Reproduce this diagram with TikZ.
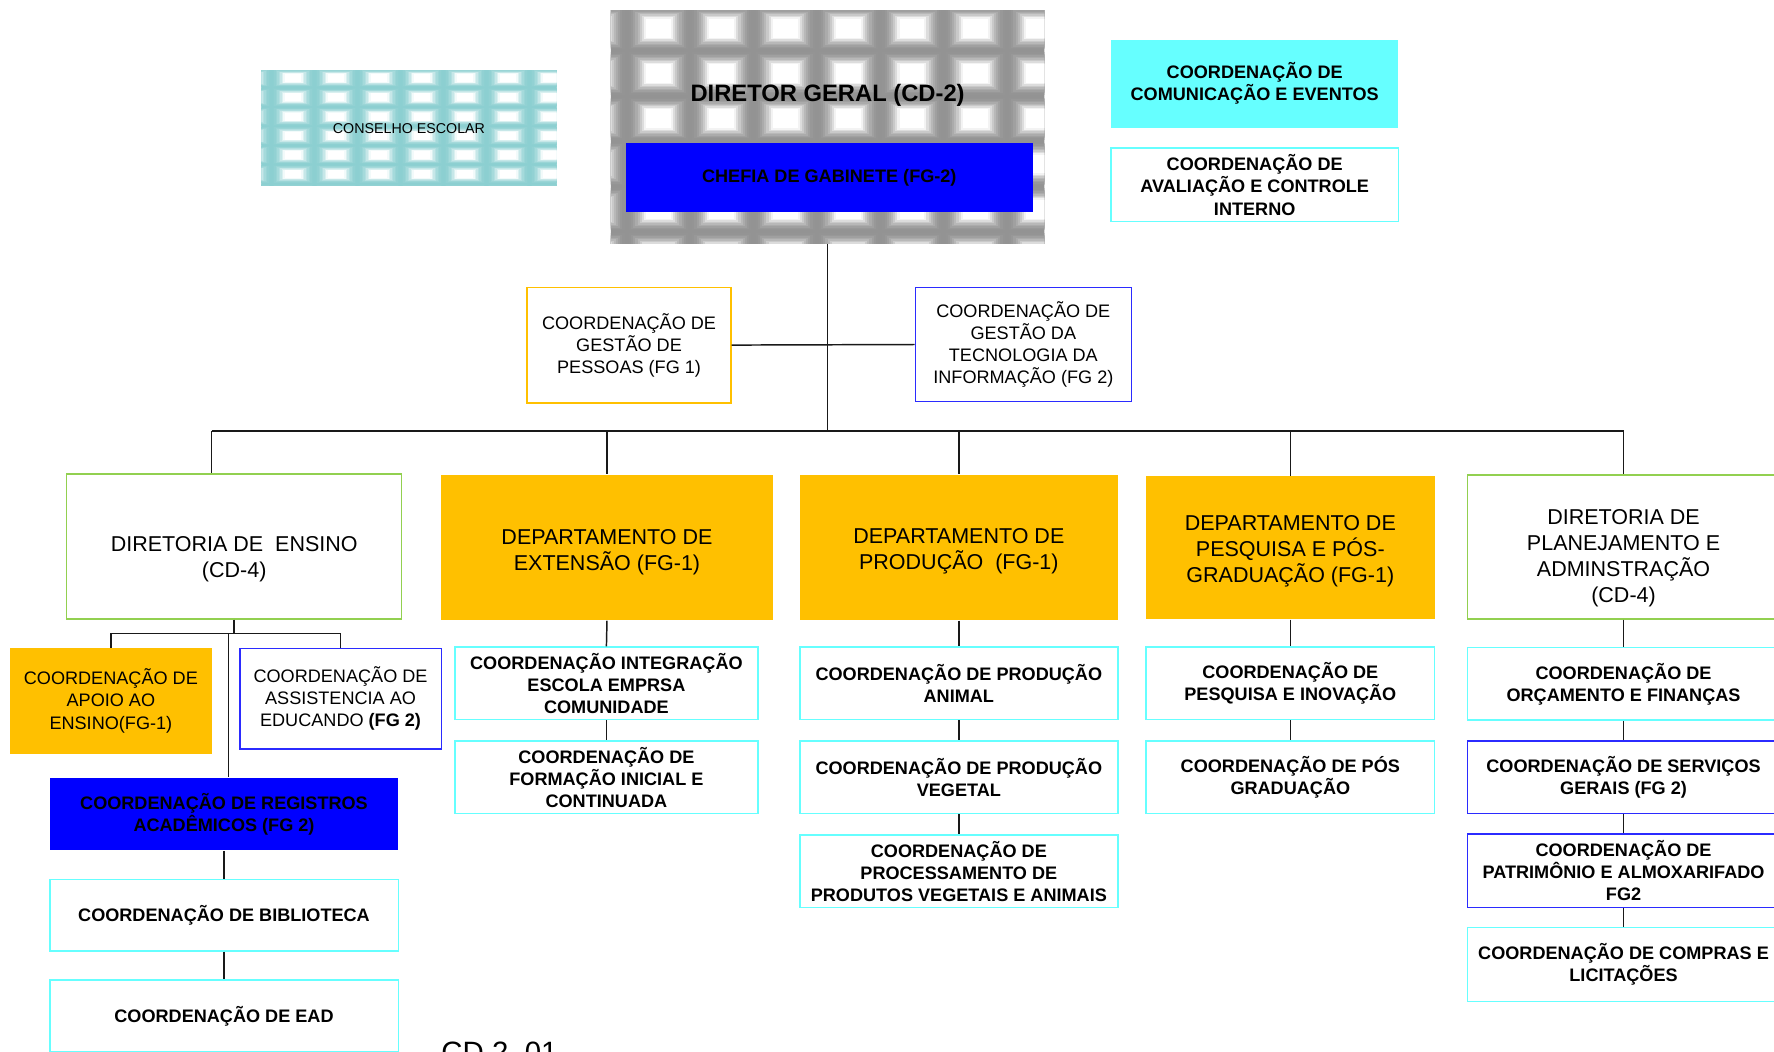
\documentclass[tikz,border=0pt]{standalone}
\usepackage{fontspec}
\setmainfont{Liberation Sans}
\definecolor{gold}{HTML}{FFC000}
\definecolor{grn}{HTML}{92D050}
\definecolor{cy}{HTML}{66FFFF}
\definecolor{bl}{HTML}{0000FF}
\definecolor{blb}{HTML}{2B2BFF}
\definecolor{tilegray}{HTML}{939393}
\definecolor{tileteal}{HTML}{8CCFD1}
\tikzset{
 box/.style={rectangle, inner sep=0pt, align=center, line width=1.3pt},
 sz/.style 2 args={minimum width=#1pt, minimum height=#2pt},
 small/.style={font=\fontsize{16}{19.5}\selectfont},
 smallbf/.style={font=\bfseries\fontsize{16}{19.5}\selectfont},
 dept/.style={font=\fontsize{19}{23}\selectfont, align=center, inner sep=0pt},
 cybox/.style={box, draw=cy, fill=white, smallbf},
 blbox/.style={box, draw=blb, fill=white},
 goldbox/.style={box, fill=gold},
 grnbox/.style={box, draw=grn, fill=white},
 link/.style={line width=1.3pt, draw=black!90},
}
\begin{document}
\begin{tikzpicture}[x=1pt,y=-1pt]
\useasboundingbox (0,0) rectangle (1568,929);
\clip (0,0) rectangle (1568,929);
\fill[white] (0,0) rectangle (1568,929);

% ---- gray tiled background of DIRETOR GERAL
\begin{scope}
 \clip (540,9) rectangle (923,215);
 \fill[tilegray] (540,9) rectangle (923,215);
 \foreach \cx in {526,582,...,918}{
  \foreach \cy in {-15,25,...,225}{
   \foreach \i [evaluate=\i as \pct using {int(min(100,\i*\i*1.4))}] in {0,...,9}{
    \fill[white!\pct!tilegray] (\cx-28+\i*1.9,\cy-20+\i*1.3) rectangle (\cx+28-\i*1.9,\cy+20-\i*1.3);
   }
  }
 }
\end{scope}
% ---- teal tiled background of CONSELHO ESCOLAR
\begin{scope}
 \clip (231,62) rectangle (492,164);
 \fill[tileteal] (231,62) rectangle (492,164);
 \foreach \cx in {221,259,...,525}{
  \foreach \cy in {52,69,...,171}{
   \foreach \i [evaluate=\i as \pct using {int(min(100,\i*\i*1.4))}] in {0,...,9}{
    \fill[white!\pct!tileteal] (\cx-19+\i*1.3,\cy-8.5+\i*0.55) rectangle (\cx+19-\i*1.3,\cy+8.5-\i*0.55);
   }
  }
 }
\end{scope}

% ---- top
\node[box, sz={383}{206}] (dg) at (731.5,112) {};
\node[font=\bfseries\fontsize{21}{24}\selectfont] (dgtxt) at (731.5,84) {DIRETOR GERAL (CD-2)};
\node[box, fill=bl, sz={360}{61}, smallbf] (chefia) at (733,157) {CHEFIA DE GABINETE (FG-2)};
\node[box, sz={261}{102}, font=\fontsize{12.6}{15}\selectfont] (cons) at (361.5,114) {CONSELHO ESCOLAR};
\node[box, fill=cy, sz={254}{78}, smallbf] (com) at (1109,74) {COORDENAÇÃO DE\\COMUNICAÇÃO E EVENTOS};
\node[cybox, sz={254}{65}] (aval) at (1109,163.5) {COORDENAÇÃO DE\\AVALIAÇÃO E CONTROLE\\INTERNO};

\node[box, draw=gold, fill=white, sz={180}{102}, small] (gp) at (556,305) {COORDENAÇÃO DE\\GESTÃO DE\\PESSOAS (FG 1)};
\node[blbox, sz={191}{101}, small] (ti) at (904.5,304.5) {COORDENAÇÃO DE\\GESTÃO DA\\TECNOLOGIA DA\\INFORMAÇÃO (FG 2)};

% ---- second level
\node[grnbox, sz={296}{128}] (dirEns) at (207,483) {};
\node[dept] (dirEnsT) at (207,494) {DIRETORIA DE\ \ ENSINO\\(CD-4)};
\node[goldbox, sz={293}{128}] (ext) at (536.5,484) {};
\node[dept] (extT) at (536.5,488) {DEPARTAMENTO DE\\EXTENSÃO (FG-1)};
\node[goldbox, sz={281}{128}] (prod) at (847.5,484) {};
\node[dept] (prodT) at (847.5,487.5) {DEPARTAMENTO DE\\PRODUÇÃO\ \ (FG-1)};
\node[goldbox, sz={255}{126}] (pesq) at (1140.5,484) {};
\node[dept] (pesqT) at (1140.5,487.5) {DEPARTAMENTO DE\\PESQUISA E PÓS-\\GRADUAÇÃO (FG-1)};
\node[grnbox, sz={276}{127}] (plan) at (1435,483.5) {};
\node[dept] (planT) at (1435,493.5) {DIRETORIA DE\\PLANEJAMENTO E\\ADMINSTRAÇÃO\\(CD-4)};

% ---- ensino branch
\node[goldbox, sz={178}{93}, small] (apoio) at (98,619.5) {COORDENAÇÃO DE\\APOIO AO\\ENSINO(FG-1)};
\node[blbox, sz={178}{89}, small] (assist) at (301,617.5) {COORDENAÇÃO DE\\ASSISTENCIA AO\\EDUCANDO \textbf{(FG 2)}};
\node[box, fill=bl, sz={308}{64}, smallbf] (reg) at (198,719.5) {COORDENAÇÃO DE REGISTROS\\ACADÊMICOS (FG 2)};
\node[cybox, sz={308}{63}] (bib) at (198,809) {COORDENAÇÃO DE BIBLIOTECA};
\node[cybox, sz={308}{64}] (ead) at (198,898) {COORDENAÇÃO DE EAD};

% ---- extensao branch
\node[cybox, sz={268}{64}] (integ) at (536,604) {COORDENAÇÃO INTEGRAÇÃO\\ESCOLA EMPRSA\\COMUNIDADE};
\node[cybox, sz={268}{64}] (form) at (536,687) {COORDENAÇÃO DE\\FORMAÇÃO INICIAL E\\CONTINUADA};

% ---- producao branch
\node[cybox, sz={281}{64}] (animal) at (847.5,604) {COORDENAÇÃO DE PRODUÇÃO\\ANIMAL};
\node[cybox, sz={281}{64}] (veget) at (847.5,687) {COORDENAÇÃO DE PRODUÇÃO\\VEGETAL};
\node[cybox, sz={281}{64}] (proc) at (847.5,770) {COORDENAÇÃO DE\\PROCESSAMENTO DE\\PRODUTOS VEGETAIS E ANIMAIS};

% ---- pesquisa branch
\node[cybox, sz={255}{64}] (pinov) at (1140.5,604) {COORDENAÇÃO DE\\PESQUISA E INOVAÇÃO};
\node[cybox, sz={255}{64}] (posg) at (1140.5,687) {COORDENAÇÃO DE PÓS\\GRADUAÇÃO};

% ---- planejamento branch
\node[cybox, sz={276}{64}] (orc) at (1435,604.5) {COORDENAÇÃO DE\\ORÇAMENTO E FINANÇAS};
\node[cybox, draw=blb, sz={276}{64}] (serv) at (1435,687) {COORDENAÇÃO DE SERVIÇOS\\GERAIS (FG 2)};
\node[cybox, draw=blb, sz={276}{65}] (patr) at (1435,769.5) {COORDENAÇÃO DE\\PATRIMÔNIO E ALMOXARIFADO\\FG2};
\node[cybox, sz={276}{65}] (compras) at (1435,852.5) {COORDENAÇÃO DE COMPRAS E\\LICITAÇÕES};

\node[anchor=base west, inner sep=0pt, font=\fontsize{26}{30}\selectfont] (cd) at (390,939) {CD 2\ \ 01};

% ---- connectors
\coordinate (busL) at (187,381);
\coordinate (busR) at (1435,381);
\coordinate (ensJ) at (207,560);
\coordinate (regJ) at (202,560);
\draw[link] (dg.south) -- (dg.south |- busL);
\draw[link] (gp.east) -- (ti.west);
\draw[link] (busL) -- (busR);
\draw[link] (busL) -- (busL |- dirEns.north);
\draw[link] (ext.north |- busL) -- (ext.north);
\draw[link] (prod.north |- busL) -- (prod.north);
\draw[link] (pesq.north |- busL) -- (pesq.north);
\draw[link] (busR) -- (plan.north);

\draw[link] (dirEns.south) -- (ensJ);
\draw[link] (apoio.north) -- (apoio.north |- ensJ) -- (assist.north |- ensJ) -- (assist.north);
\draw[link] (regJ) -- (regJ |- reg.north);
\draw[link] (reg.south) -- (bib.north);
\draw[link] (bib.south) -- (ead.north);

\draw[link] (ext.south) -- (integ.north);
\draw[link] (integ.south) -- (form.north);
\draw[link] (prod.south) -- (animal.north);
\draw[link] (animal.south) -- (veget.north);
\draw[link] (veget.south) -- (proc.north);
\draw[link] (pesq.south) -- (pinov.north);
\draw[link] (pinov.south) -- (posg.north);
\draw[link] (plan.south) -- (orc.north);
\draw[link] (orc.south) -- (serv.north);
\draw[link] (serv.south) -- (patr.north);
\draw[link] (patr.south) -- (compras.north);
\end{tikzpicture}
\end{document}
